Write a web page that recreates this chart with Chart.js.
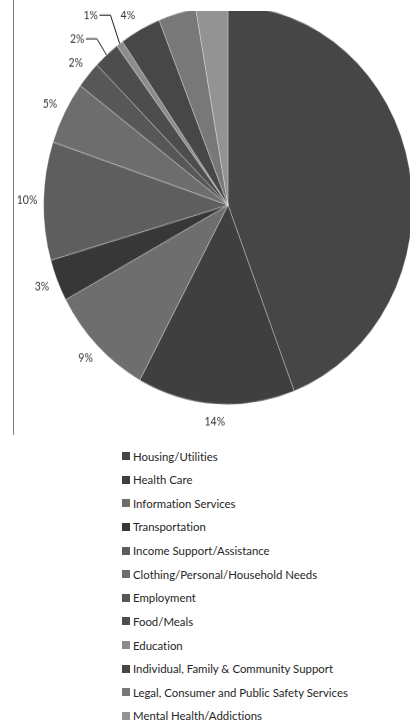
<!DOCTYPE html>
<html>
<head>
<meta charset="utf-8">
<script src="https://cdn.jsdelivr.net/npm/chart.js@4/dist/chart.umd.min.js"></script>
<style>
  html, body { margin: 0; padding: 0; background: #fff; width: 410px; height: 727px; overflow: hidden; position: relative; }
  #vline { position: absolute; left: 13px; top: 0; width: 1px; height: 435px; background: #7f7f7f; }
  #clip { position: absolute; left: 0; top: 11px; width: 410px; height: 432px; overflow: hidden; }
  #wrap { position: absolute; left: -2.3px; top: -60px; transform: scaleY(1.081); transform-origin: 0 0; }
  #legend { position: absolute; left: 122px; top: 444.2px; margin: 0; padding: 0; list-style: none;
            font-family: Lato, "Liberation Sans", sans-serif; font-size: 11.4px; color: #262626;
            font-variant-ligatures: none; font-feature-settings: "liga" 0, "clig" 0; }
  #legend li { height: 23.64px; display: flex; align-items: center; white-space: nowrap; }
  #legend .sw { width: 8px; height: 8px; margin-right: 3px; flex: none; }
</style>
</head>
<body>
<div id="vline"></div>
<div id="clip"><div id="wrap"><canvas id="c" width="460" height="470"></canvas></div></div>
<ul id="legend"></ul>
<script>
const categories = [
  "Housing/Utilities",
  "Health Care",
  "Information Services",
  "Transportation",
  "Income Support/Assistance",
  "Clothing/Personal/Household Needs",
  "Employment",
  "Food/Meals",
  "Education",
  "Individual, Family & Community Support",
  "Legal, Consumer and Public Safety Services",
  "Mental Health/Addictions"
];
const shares = [44.2, 13.8, 9.2, 3.4, 9.6, 5.1, 2.2, 2.3, 0.6, 3.6, 3.3, 2.8];
const sliceColors = ["#464646", "#3f3f3f", "#6e6e6e", "#373737", "#5e5e5e", "#6d6d6d",
                     "#575757", "#4d4d4d", "#8c8c8c", "#474747", "#787878", "#939393"];

const pctLabels = {
  id: 'pctLabels',
  afterDatasetsDraw(chart, args, opts) {
    const ctx = chart.ctx;
    const meta = chart.getDatasetMeta(0);
    const vals = chart.data.datasets[0].data;
    const total = vals.reduce((a, b) => a + b, 0);
    ctx.save();
    ctx.font = opts.font;
    ctx.fillStyle = opts.color;
    ctx.textAlign = 'center';
    ctx.textBaseline = 'middle';
    ctx.strokeStyle = opts.lineColor;
    ctx.lineWidth = 1;
    meta.data.forEach((arc, i) => {
      const p = arc.getProps(['x', 'y', 'startAngle', 'endAngle', 'outerRadius'], true);
      const mid = (p.startAngle + p.endAngle) / 2;
      let lx = p.x + Math.cos(mid) * p.outerRadius * opts.factor;
      let ly = p.y + Math.sin(mid) * p.outerRadius * opts.factor;
      const n = opts.nudge[i];
      if (n) { lx += n[0]; ly += n[1]; }
      const txt = Math.round(vals[i] / total * 100) + '%';
      ctx.fillText(txt, lx, ly);
      if (opts.leader.includes(i)) {
        const w = ctx.measureText(txt).width;
        const ex = p.x + Math.cos(mid) * p.outerRadius;
        const ey = p.y + Math.sin(mid) * p.outerRadius;
        ctx.beginPath();
        ctx.moveTo(lx + w / 2 + 1.5, ly);
        ctx.lineTo(lx + w / 2 + 12.5, ly);
        ctx.lineTo(ex, ey);
        ctx.stroke();
      }
    });
    ctx.restore();
  }
};

const chart = new Chart(document.getElementById('c'), {
  type: 'pie',
  data: {
    labels: categories,
    datasets: [{
      data: shares,
      backgroundColor: sliceColors,
      borderColor: 'rgba(255,255,255,0.35)',
      borderWidth: 0.8
    }]
  },
  options: {
    responsive: false,
    animation: false,
    radius: 184.4,
    layout: { padding: 0 },
    plugins: {
      legend: { display: false },
      tooltip: { enabled: false },
      pctLabels: {
        font: '10.5px Lato, "Liberation Sans", sans-serif',
        color: '#333333',
        lineColor: '#1a1a1a',
        factor: 1.09,
        nudge: { 7: [-18.5, -2.5], 8: [-19.2, -13], 9: [-4.5, 0.9] },
        leader: [7, 8]
      }
    }
  },
  plugins: [pctLabels]
});

const legendEl = document.getElementById('legend');
categories.forEach((name, i) => {
  const li = document.createElement('li');
  const sw = document.createElement('span');
  sw.className = 'sw';
  sw.style.background = sliceColors[i];
  li.appendChild(sw);
  li.appendChild(document.createTextNode(name));
  legendEl.appendChild(li);
});
</script>
</body>
</html>
